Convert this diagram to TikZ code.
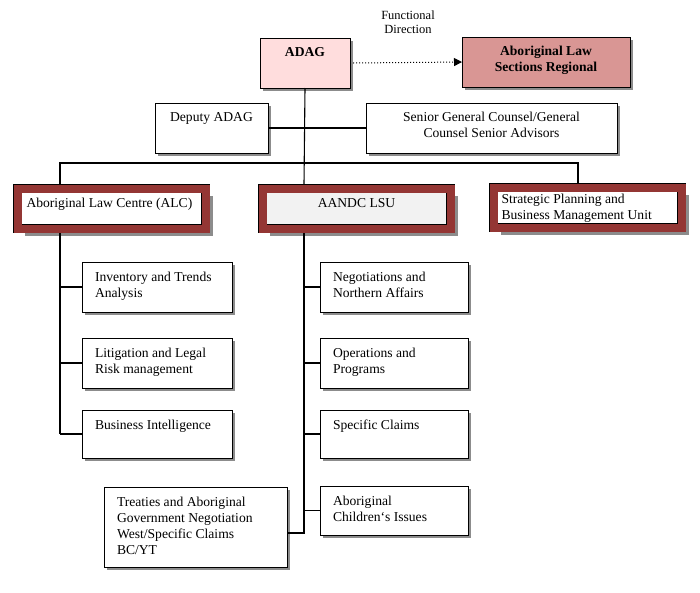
\documentclass[tikz,border=0pt]{standalone}
\usepackage{fontspec}
\setmainfont{Liberation Serif}
\usetikzlibrary{shadows,arrows.meta}
\definecolor{boxred}{HTML}{943634}
\definecolor{adagpink}{HTML}{FFDDDD}
\definecolor{alsrred}{HTML}{D99694}
\definecolor{ltgray}{HTML}{F2F2F2}
\newcommand\tbox[3]{\parbox[c][#2pt][t]{#1pt}{\vspace*{10pt}\raggedright\leftskip=13pt #3\par}}
\newcommand\cbox[3]{\parbox[c][#2pt][t]{#1pt}{\vspace*{9pt}\centering #3\par}}
\tikzset{
  base/.style={draw=black, line width=0.9pt, fill=white, inner sep=0pt, outer sep=0pt,
    drop shadow={shadow xshift=3pt,shadow yshift=-3pt,fill=black!45,opacity=1},
    font=\fontsize{13.6}{16}\selectfont},
  redbox/.style={draw=black, double=boxred, double distance=8pt, line width=0.6pt, inner sep=0pt, outer sep=0pt,
    drop shadow={shadow xshift=7pt,shadow yshift=-7pt,fill=black!45,opacity=1},
    font=\fontsize{13.6}{16}\selectfont, minimum width=188pt, minimum height=40pt},
  conn/.style={line width=1.1pt, black}
}
\begin{document}
\begin{tikzpicture}[x=1pt,y=-1pt]
\useasboundingbox (0,0) rectangle (700,592);
\node[font=\fontsize{12.5}{14}\selectfont, align=center] (fd) at (408,22) {Functional\\Direction};
\node[base, fill=adagpink, minimum width=90pt, minimum height=50pt] (adag) at (305,63) {\cbox{90}{50}{\textbf{ADAG}}};
\node[base, fill=alsrred, minimum width=168pt, minimum height=50pt] (alsr) at (546,62) {\cbox{168}{50}{\textbf{Aboriginal Law\\Sections Regional}}};
\node[base, minimum width=113pt, minimum height=50pt] (dep) at (211.5,128) {\cbox{113}{50}{Deputy ADAG}};
\node[base, minimum width=251pt, minimum height=50pt] (sen) at (491.5,128) {\cbox{251}{50}{Senior General Counsel/General\\Counsel Senior Advisors}};
\node[redbox, fill=white] (alc) at (111.5,208.5) {\parbox[c][40pt][t]{188pt}{\vspace*{10pt}\leftskip=9pt Aboriginal Law Centre (ALC)\par}};
\node[redbox, fill=ltgray] (lsu) at (356.5,208.5) {\parbox[c][40pt][t]{188pt}{\vspace*{10pt}\centering AANDC LSU\par}};
\node[redbox, fill=white] (spu) at (587.5,207.5) {\parbox[c][40pt][t]{188pt}{\vspace*{7pt}\raggedright\leftskip=8pt Strategic Planning and\\Business Management Unit\par}};
% ALC children
\node[base, minimum width=150pt, minimum height=50pt] (inv) at (157,287) {\tbox{150}{50}{Inventory and Trends\\Analysis}};
\node[base, minimum width=150pt, minimum height=50pt] (lit) at (157,363) {\tbox{150}{50}{Litigation and Legal\\Risk management}};
\node[base, minimum width=150pt, minimum height=48pt] (bi) at (157,434) {\tbox{150}{48}{Business Intelligence}};
% LSU children
\node[base, minimum width=148pt, minimum height=50pt] (neg) at (394,287) {\tbox{148}{50}{Negotiations and\\Northern Affairs}};
\node[base, minimum width=148pt, minimum height=50pt] (ops) at (394,363) {\tbox{148}{50}{Operations and\\Programs}};
\node[base, minimum width=148pt, minimum height=48pt] (spc) at (394,434) {\tbox{148}{48}{Specific Claims}};
\node[base, minimum width=148pt, minimum height=49pt] (aci) at (394,510.5) {\tbox{148}{49}{Aboriginal\\Children`s Issues}};
\node[base, minimum width=183pt, minimum height=80pt] (tre) at (195.5,527) {\tbox{183}{80}{Treaties and Aboriginal\\Government Negotiation\\West/Specific Claims\\BC/YT}};
% connectors
\draw[line width=1pt, dotted, -{Triangle[length=8pt,width=8pt]}] ([xshift=3pt]adag.east) -- (alsr.west);
\coordinate (t1) at (304,184);
\draw[conn] (adag.south) -- (t1);
\draw[conn] (dep.east) -- (sen.west);
\coordinate (b1) at (60,163);
\coordinate (b2) at (578,163);
\coordinate (b1d) at (60,184);
\coordinate (b2d) at (578,183);
\draw[conn] (b1d) -- (b1) -- (b2) -- (b2d);
\coordinate (s1) at (60,233);
\coordinate (s1e) at (60,434);
\draw[conn] (s1) -- (s1e);
\draw[conn] (60,287) -- (inv.west);
\draw[conn] (60,363) -- (lit.west);
\draw[conn] (s1e) -- (bi.west);
\coordinate (s2) at (304,233);
\coordinate (s2e) at (304,533);
\draw[conn] (s2) -- (s2e) -- ([yshift=-6pt]tre.east);
\draw[conn] (304,287) -- (neg.west);
\draw[conn] (304,363) -- (ops.west);
\draw[conn] (304,434) -- (spc.west);
\draw[conn] (304,510.5) -- (aci.west);
\end{tikzpicture}
\end{document}
